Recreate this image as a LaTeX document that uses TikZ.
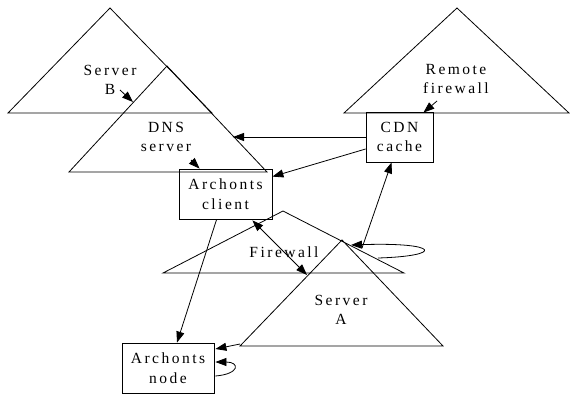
\documentclass[tikz,border=0pt]{standalone}
\usepackage{fontspec}
\setmainfont{Liberation Serif}[LetterSpace=16]
\usetikzlibrary{arrows.meta,calc}
\begin{document}
\begin{tikzpicture}[x=1pt,y=-1pt,
  line width=0.8pt,
  lbl/.style={align=center,font=\fontsize{15.5}{19.5}\selectfont,inner sep=0pt},
  boxnode/.style={draw,minimum height=50pt,align=center,font=\fontsize{15.5}{19.5}\selectfont,inner sep=0pt},
  tri/.style={draw,line join=miter},
  arr/.style={-{Triangle[length=11pt,width=8pt]}},
  darr/.style={{Triangle[length=11pt,width=8pt]}-{Triangle[length=11pt,width=8pt]}}]
\useasboundingbox (0,0) rectangle (570,394);
% triangles
\draw[tri] (110,8) -- (212,113) -- (8,113) -- cycle;
\draw[tri] (167,66) -- (267,172) -- (69,172) -- cycle;
\draw[tri] (457,8) -- (569,113) -- (344,113) -- cycle;
\draw[tri] (283,211) -- (404,273) -- (163,273) -- cycle;
\draw[tri] (342,240) -- (443,346) -- (240,346) -- cycle;
% labels
\node[lbl] (sb) at (110,80) {Server\\B};
\node[lbl] (dns) at (166,137) {DNS\\server};
\node[lbl] (rfw) at (456,79) {Remote\\firewall};
\node[lbl] (fw) at (284,252) {Firewall};
\node[lbl] (sa) at (341,310) {Server\\A};
% boxes
\node[boxnode,minimum width=67pt] (cdn) at (399.5,137) {CDN\\cache};
\node[boxnode,minimum width=93pt] (client) at (225.5,194) {Archonts\\client};
\node[boxnode,minimum width=92pt] (anode) at (168,368) {Archonts\\node};
% coordinates
\coordinate (sbT) at (120,90);
\coordinate (dnsL) at (133,102);
\coordinate (dnsR) at (233,137);
\coordinate (dnsT) at (191,160);
\coordinate (rfwT) at (437,101);
\coordinate (saT) at (362,248);
\coordinate (fwR) at (378,258);
\coordinate (saR) at (351,245);
\coordinate (fwB) at (307,275);
\coordinate (saL) at (240,344);
% edges
\draw[arr] (sbT) -- (dnsL);
\draw[arr] (cdn.west) -- (dnsR);
\draw[arr] ($(cdn.west)+(0,12)$) -- ($(client.north east)+(0,8)$);
\draw[arr] (dnsT) -- ($(client.north west)+(21,0)$);
\draw[arr] (rfwT) -- ($(cdn.north east)+(-10,1)$);
\draw[arr] (saT) -- ($(cdn.south west)+(26,0)$);
\draw[arr] (fwR) .. controls (445,256) and (440,242) .. (saR);
\draw[darr] ($(client.south east)+(-20,1)$) -- (fwB);
\draw[arr] ($(client.south west)+(38,0)$) -- ($(anode.north)+(9,0)$);
\draw[arr] (saL) -- ($(anode.east)+(1,-19)$);
\draw[arr] ($(anode.east)+(1,8)$) .. controls (240,374) and (240,362) .. ($(anode.east)+(1,-6)$);
\end{tikzpicture}
\end{document}
